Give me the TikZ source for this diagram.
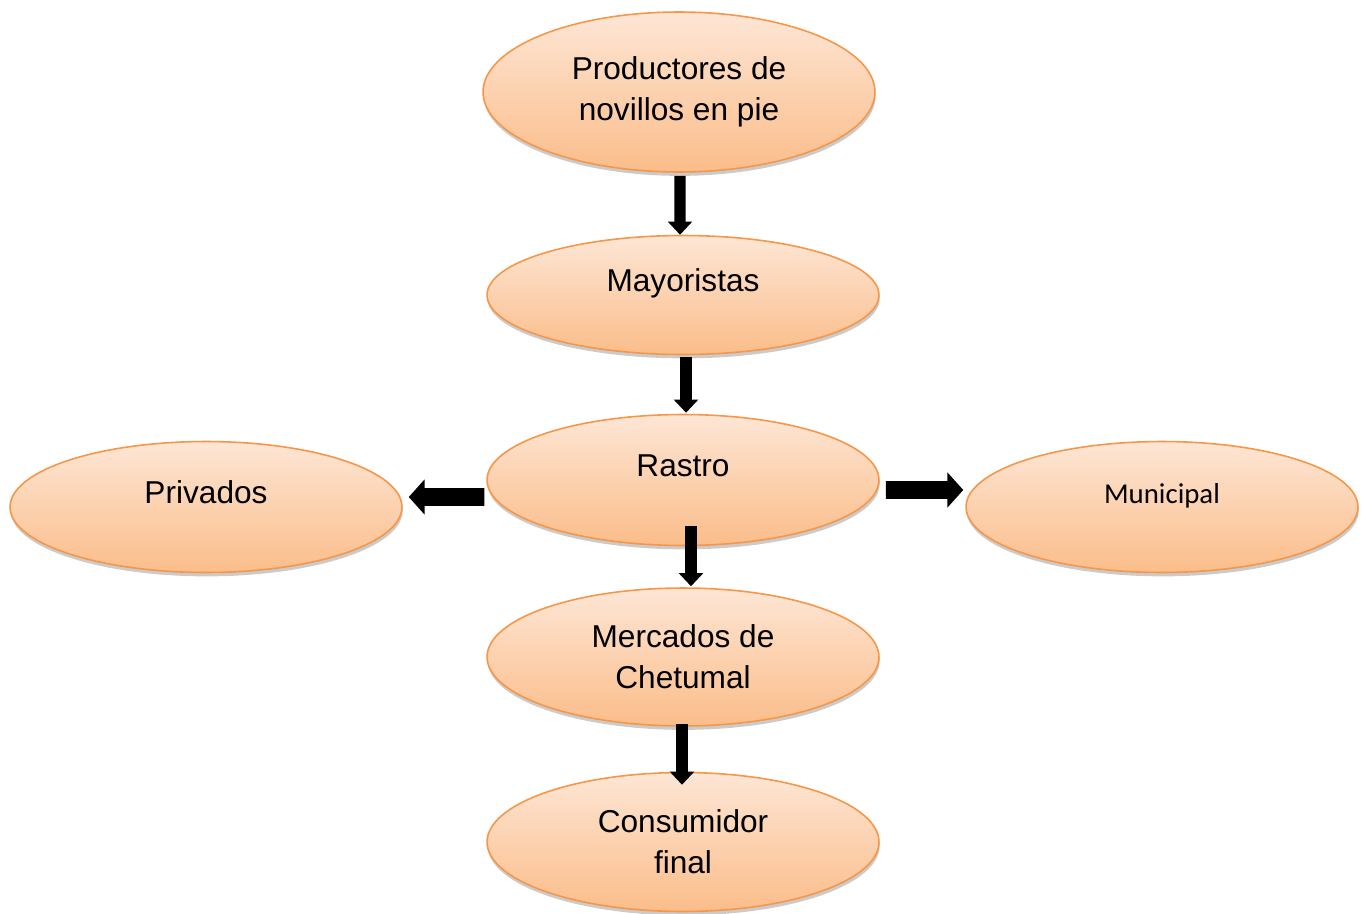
\documentclass[tikz,border=0pt]{standalone}
\usepackage{fontspec}
\setmainfont{Liberation Sans}
\newfontfamily\calibrifont{Carlito}
\usepackage{tikz}
\usetikzlibrary{shapes.geometric, shadows, arrows.meta}

\definecolor{pielTop}{HTML}{FDE6D5}
\definecolor{pielBot}{HTML}{FBBD8A}
\definecolor{pielBorde}{HTML}{F79646}

\begin{document}
\begin{tikzpicture}[x=0.02cm, y=-0.02cm]
      \tikzstyle{etapa}=[ellipse, draw=pielBorde, line width=0.9pt, top color=pielTop, bottom color=pielBot,
        minimum width=7.84cm, inner sep=2pt, align=center, font=\fontsize{18}{23.2}\selectfont,
        drop shadow={shadow xshift=0.4pt, shadow yshift=-2.2pt, fill=black!45, opacity=0.45}]
      \tikzstyle{unalinea}=[text height=12pt, text depth=16pt]
      \tikzstyle{vflecha}=[line width=6.3pt, -{Triangle[width=13.6pt, length=7.5pt]}]
      \tikzstyle{hflecha}=[line width=10pt, -{Triangle[width=19.5pt, length=9pt]}]
      \useasboundingbox (0,0) rectangle (1368,913);
      \node [etapa, minimum height=3.2cm] (productores) at (679,92) {Productores de\\novillos en pie};
      \node [etapa, unalinea, minimum height=2.38cm] (mayoristas) at (683,295) {Mayoristas};
      \node [etapa, unalinea, minimum height=2.62cm] (rastro) at (683,480) {Rastro};
      \node [etapa, unalinea, minimum height=2.62cm] (privados) at (206,507) {Privados};
      \node [etapa, unalinea, minimum height=2.62cm, font=\calibrifont\fontsize{16.4}{20}\selectfont] (municipal) at (1162,507) {Municipal};
      \node [etapa, minimum height=2.76cm] (mercados) at (683,657) {Mercados de\\Chetumal};
      \node [etapa, minimum height=2.78cm] (consumidor) at (683,842) {Consumidor\\final};
      \draw [vflecha] ([xshift=0.02cm, yshift=-0.06cm]productores.south) -- ([xshift=-0.06cm]mayoristas.north);
      \draw [vflecha] ([xshift=0.06cm, yshift=-0.04cm]mayoristas.south) -- ([xshift=0.06cm, yshift=0.02cm]rastro.north);
      \draw [vflecha] ([xshift=0.16cm, yshift=0.4cm]rastro.south) -- ([xshift=0.16cm, yshift=0.02cm]mercados.north);
      \draw [hflecha] ([xshift=-0.04cm, yshift=-0.34cm]rastro.west) -- ([xshift=0.12cm, yshift=0.2cm]privados.east);
      \draw [hflecha] ([xshift=0.12cm, yshift=-0.2cm]rastro.east) -- ([xshift=-0.04cm, yshift=0.34cm]municipal.west);
      \draw [vflecha] ([xshift=-0.02cm, yshift=0.06cm]mercados.south) -- ([xshift=-0.02cm, yshift=-0.26cm]consumidor.north);
\end{tikzpicture}
\end{document}
